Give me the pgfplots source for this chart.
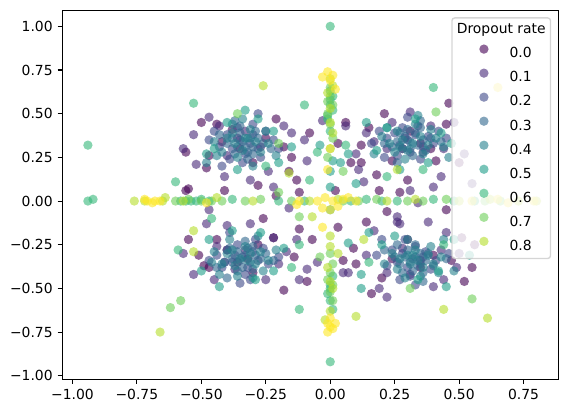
\documentclass[border=0pt]{standalone}
\usepackage{fontspec}
\setmainfont{DejaVu Sans}
\usepackage{pgfplots}
\pgfplotsset{compat=1.18}
\definecolor{c0}{HTML}{440154}
\definecolor{c1}{HTML}{482878}
\definecolor{c2}{HTML}{3E4989}
\definecolor{c3}{HTML}{31688E}
\definecolor{c4}{HTML}{26828E}
\definecolor{c5}{HTML}{1F9E89}
\definecolor{c6}{HTML}{35B779}
\definecolor{c7}{HTML}{6ECE58}
\definecolor{c8}{HTML}{B5DE2B}
\definecolor{c9}{HTML}{FDE725}
\pgfplotsset{
  dot/.style={only marks, mark=*, mark size=3.35pt, mark options={draw=#1, draw opacity=0, fill=#1, fill opacity=0.6}},
}
\begin{document}
\begin{tikzpicture}
\begin{axis}[
  at={(0,0)}, anchor=south west,
  scale only axis, width=356.9pt, height=265.5pt,
  xmin=-1.039, xmax=0.884, ymin=-1.019, ymax=1.092,
  xtick={-1,-0.75,-0.5,-0.25,0,0.25,0.5,0.75},
  xticklabels={−1.00,−0.75,−0.50,−0.25,0.00,0.25,0.50,0.75},
  ytick={-1,-0.75,-0.5,-0.25,0,0.25,0.5,0.75,1},
  yticklabels={−1.00,−0.75,−0.50,−0.25,0.00,0.25,0.50,0.75,1.00},
  tick label style={font=\fontsize{10}{12}\selectfont},
  xtick pos=left, ytick pos=left,
  tick align=outside, major tick length=3.5pt,
  tick style={line width=0.8pt, black},
  axis line style={line width=0.8pt},
  legend cell align=left,
  legend image code/.code={\path[draw=none, fill=none] (-19.5pt,-3pt) rectangle (14pt,3pt); \draw[#1] plot coordinates {(0pt,3.6pt)};},
  legend style={at={(1,1)}, anchor=north east, xshift=-5pt, yshift=-5pt,
    draw=black!20, line width=1pt, rounded corners=2pt, fill=white, fill opacity=0.8, draw opacity=0.8, text opacity=1,
    font=\fontsize{10}{12}\selectfont, inner xsep=3.5pt, inner ysep=4pt,
    nodes={inner sep=0pt, text height=7.5pt, text depth=2pt},
    row sep=5.6pt, column sep=4.5pt},
]
\addlegendimage{empty legend}
\addlegendentry{\hspace{-38pt}Dropout rate}
% 0.0
\addplot[dot=c0] coordinates {
(-0.56,0.28) (-0.55,0.07) (-0.56,0.06) (-0.47,0.26) (-0.48,0.19) (-0.38,0.41) (-0.41,0.06) (-0.28,0.09) (-0.21,0.03) (-0.30,0.22)
(-0.25,0.36) (-0.35,0.30) (-0.42,0.34) (-0.18,0.31) (-0.08,0.39) (0.03,0.33) (-0.16,0.17) (0.08,0.22) (0.02,0.06) (0.12,0.22)
(0.06,0.45) (0.21,0.50) (0.46,0.56) (0.35,0.33) (0.39,0.30) (0.24,0.23) (0.30,0.12) (0.41,0.23) (0.19,0.06) (0.27,0.05)
(0.31,0.40) (0.28,0.30) (0.50,0.22) (-0.49,-0.37) (-0.47,-0.38) (-0.32,-0.33) (-0.36,-0.35) (-0.28,-0.25) (-0.18,-0.51) (-0.12,-0.16)
(-0.07,-0.22) (-0.09,-0.46) (-0.22,-0.21) (-0.51,-0.31) (-0.40,-0.28) (-0.30,-0.41) (0.05,-0.34) (0.03,-0.15) (0.24,-0.33) (0.40,-0.31)
(0.52,-0.46) (0.16,-0.53) (0.56,-0.25) (0.45,-0.05) (0.20,-0.44) (0.35,-0.38) (0.30,-0.22) (0.51,-0.21) (-0.13,0.12) (0.14,-0.12)
(-0.44,0.44) (-0.21,0.47) (-0.12,0.05) (0.12,0.32) (0.18,0.15) (-0.26,-0.10) (-0.44,-0.22) (0.09,-0.27) (0.22,-0.06) (0.47,-0.34)
(-0.50,0.45) (-0.15,0.25) (0.15,0.42) (0.45,0.44) (-0.55,-0.22) (-0.14,-0.32) (0.10,-0.36) (0.55,-0.38)
};
\addlegendentry{0.0}
% 0.1
\addplot[dot=c1] coordinates {
(-0.47,0.48) (-0.43,0.43) (-0.18,0.43) (-0.15,0.39) (-0.52,0.21) (-0.41,0.14) (-0.31,0.12) (-0.22,0.08) (-0.09,0.23) (-0.16,-0.04)
(-0.47,-0.05) (-0.03,0.46) (0.06,0.43) (-0.36,0.36) (-0.27,0.31) (-0.40,0.26) (-0.33,0.40) (0.31,0.51) (0.24,0.45) (0.39,0.43)
(0.14,0.39) (0.17,0.34) (0.13,0.11) (0.31,0.06) (0.43,0.14) (0.44,0.30) (0.26,-0.09) (0.27,-0.13) (0.34,-0.01) (0.29,0.36)
(0.36,0.28) (0.22,0.30) (-0.48,-0.13) (-0.45,-0.45) (-0.44,-0.26) (-0.40,-0.14) (-0.31,-0.13) (-0.22,-0.21) (-0.20,-0.36) (-0.17,-0.29)
(-0.13,-0.22) (-0.05,-0.35) (-0.09,-0.39) (0.05,-0.41) (-0.41,-0.35) (-0.33,-0.28) (-0.37,-0.39) (0.14,-0.31) (0.17,-0.17) (0.26,-0.12)
(0.38,-0.12) (0.45,-0.18) (0.07,-0.41) (0.22,-0.41) (0.40,-0.49) (0.44,-0.45) (0.31,-0.42) (0.43,-0.28) (0.28,-0.27) (0.35,-0.34)
(0.52,0.27) (0.55,0.10) (0.49,-0.38) (-0.53,0.38) (-0.24,0.17) (0.10,0.27) (0.40,0.08) (-0.53,-0.42) (-0.25,-0.45) (0.19,-0.50)
(-0.57,0.30) (-0.10,0.35) (0.48,0.45) (0.11,0.18) (-0.57,-0.30) (-0.12,-0.45) (0.50,-0.30) (0.22,-0.55)
};
\addlegendentry{0.1}
% 0.2
\addplot[dot=c2] coordinates {
(-0.35,0.35) (-0.30,0.38) (-0.38,0.30) (-0.28,0.30) (-0.33,0.27) (-0.40,0.38) (-0.25,0.40) (-0.36,0.42) (-0.31,0.33) (-0.43,0.31)
(-0.27,0.25) (-0.34,0.22) (-0.22,0.35) (-0.39,0.24) (-0.30,0.44) (-0.45,0.40)
(0.30,0.35) (0.33,0.38) (0.27,0.32) (0.36,0.31) (0.25,0.39) (0.31,0.28) (0.38,0.37) (0.22,0.36) (0.34,0.43) (0.28,0.42)
(0.40,0.33) (0.26,0.26) (0.19,0.40) (0.35,0.24) (0.42,0.40)
(-0.34,-0.32) (-0.30,-0.29) (-0.38,-0.35) (-0.32,-0.38) (-0.28,-0.34) (-0.40,-0.28) (-0.36,-0.25) (-0.26,-0.27) (-0.42,-0.38) (-0.33,-0.42)
(-0.24,-0.36) (-0.37,-0.31) (-0.29,-0.22) (-0.44,-0.31) (-0.31,-0.45)
(0.32,-0.33) (0.28,-0.30) (0.35,-0.36) (0.30,-0.38) (0.26,-0.35) (0.37,-0.29) (0.33,-0.26) (0.24,-0.28) (0.39,-0.39) (0.31,-0.43)
(0.22,-0.37) (0.36,-0.32) (0.29,-0.22) (0.41,-0.34) (0.27,-0.45)
(-0.47,0.35) (-0.20,0.30) (-0.28,0.50) (-0.42,0.20) (0.16,0.33) (0.45,0.36) (0.30,0.48) (0.21,0.25) (-0.47,-0.34) (-0.20,-0.32)
(-0.35,-0.47) (-0.39,-0.18) (0.18,-0.31) (0.46,-0.30) (0.33,-0.48) (0.20,-0.22)
};
\addlegendentry{0.2}
% 0.3
\addplot[dot=c3] coordinates {
(-0.34,0.34) (-0.31,0.36) (-0.36,0.31) (-0.30,0.31) (-0.35,0.39) (-0.32,0.28) (-0.38,0.36) (-0.28,0.36) (-0.37,0.27) (-0.33,0.31)
(-0.29,0.40) (-0.40,0.33) (-0.26,0.33) (-0.35,0.43) (-0.32,0.24)
(0.31,0.34) (0.29,0.37) (0.34,0.32) (0.28,0.30) (0.33,0.39) (0.36,0.35) (0.26,0.34) (0.31,0.30) (0.30,0.41) (0.37,0.29)
(0.24,0.31) (0.35,0.42) (0.32,0.26) (0.39,0.36) (0.27,0.39)
(-0.33,-0.31) (-0.35,-0.34) (-0.31,-0.35) (-0.36,-0.29) (-0.29,-0.31) (-0.38,-0.33) (-0.32,-0.27) (-0.34,-0.38) (-0.27,-0.33) (-0.39,-0.27)
(-0.30,-0.39) (-0.36,-0.40) (-0.25,-0.30) (-0.41,-0.35) (-0.33,-0.23)
(0.33,-0.32) (0.31,-0.35) (0.35,-0.30) (0.29,-0.32) (0.34,-0.37) (0.37,-0.34) (0.30,-0.28) (0.32,-0.40) (0.27,-0.36) (0.38,-0.30)
(0.25,-0.32) (0.36,-0.41) (0.33,-0.25) (0.40,-0.37) (0.28,-0.41)
(-0.43,0.38) (-0.23,0.30) (-0.30,0.27) (-0.37,0.46) (0.21,0.33) (0.43,0.34) (0.35,0.46) (0.26,0.22) (-0.44,-0.38) (-0.22,-0.34)
(-0.30,-0.26) (-0.40,-0.44) (0.21,-0.28) (0.45,-0.33) (0.36,-0.46) (0.26,-0.25)
};
\addlegendentry{0.3}
% 0.4
\addplot[dot=c4] coordinates {
(-0.33,0.36) (-0.37,0.33) (-0.29,0.34) (-0.34,0.29) (-0.40,0.36) (-0.27,0.28) (-0.36,0.25) (-0.31,0.41) (-0.42,0.28) (-0.24,0.33)
(-0.38,0.44) (-0.30,0.20) (-0.45,0.34) (-0.21,0.26) (-0.34,0.47) (-0.48,0.22)
(0.32,0.33) (0.28,0.35) (0.35,0.37) (0.30,0.29) (0.26,0.40) (0.38,0.32) (0.23,0.33) (0.33,0.44) (0.41,0.36) (0.29,0.24)
(0.36,0.27) (0.20,0.37) (0.44,0.31) (0.25,0.28) (0.34,0.49) (0.17,0.27)
(-0.35,-0.33) (-0.31,-0.30) (-0.37,-0.37) (-0.29,-0.36) (-0.40,-0.30) (-0.33,-0.26) (-0.27,-0.29) (-0.42,-0.36) (-0.36,-0.43) (-0.24,-0.34)
(-0.39,-0.22) (-0.30,-0.44) (-0.45,-0.29) (-0.21,-0.28) (-0.43,-0.42) (-0.28,-0.20)
(0.34,-0.34) (0.30,-0.31) (0.36,-0.38) (0.31,-0.36) (0.38,-0.31) (0.33,-0.28) (0.27,-0.33) (0.40,-0.36) (0.35,-0.43) (0.24,-0.30)
(0.39,-0.26) (0.29,-0.44) (0.43,-0.32) (0.21,-0.36) (0.42,-0.41) (0.30,-0.22)
(-0.25,0.40) (-0.44,0.26) (-0.32,0.36) (-0.38,0.39) (0.27,0.31) (0.39,0.41) (0.22,0.42) (0.46,0.25) (-0.26,-0.40) (-0.46,-0.35)
(-0.32,-0.34) (-0.38,-0.28) (0.26,-0.39) (0.44,-0.22) (0.32,-0.31) (0.48,-0.40)
};
\addlegendentry{0.4}
% 0.5
\addplot[dot=c5] coordinates {
(-0.33,0.52) (-0.28,0.47) (0.01,0.23) (-0.04,0.32) (0.07,0.27) (0.00,0.17) (-0.45,0.30) (-0.40,0.45) (-0.22,0.40) (-0.20,0.22)
(-0.48,0.27) (-0.36,0.18) (-0.15,0.31) (0.07,-0.24) (0.12,-0.42) (0.12,-0.50) (0.54,-0.31) (0.45,-0.49) (0.34,-0.45) (0.15,-0.18)
(0.20,-0.25) (0.48,-0.22) (0.42,-0.40) (0.25,-0.20) (-0.43,-0.49) (-0.29,-0.45) (-0.47,-0.22) (-0.38,-0.17) (-0.22,-0.40) (-0.18,-0.27)
(-0.50,-0.40) (-0.27,-0.18) (0.33,0.47) (0.43,0.39) (0.04,0.22) (0.10,0.10) (0.27,0.18) (0.18,0.29) (0.47,0.33) (0.22,0.42)
(0.38,0.22) (0.14,0.45) (0.00,-0.05) (0.00,0.08)
};
\addlegendentry{0.5}
% 0.6
\addplot[dot=c6] coordinates {
(-0.94,0.32) (-0.94,0.00) (-0.92,0.01) (0.00,1.00) (0.00,-0.92) (-0.59,-0.28) (-0.60,0.11) (-0.12,-0.62) (-0.53,0.56) (0.40,0.65)
(-0.10,0.55) (0.00,0.63) (0.00,0.58) (0.01,0.52) (-0.01,0.47) (0.00,0.40) (0.01,-0.43) (0.00,-0.48) (-0.01,-0.53) (0.00,-0.57) (0.01,-0.62)
(-0.58,0.00) (-0.56,0.00) (-0.52,0.00) (-0.47,0.00) (-0.38,0.01) (-0.20,0.00) (-0.10,0.00) (0.08,0.00) (0.14,0.01)
(0.20,0.00) (0.26,0.00) (0.40,0.01) (0.48,0.00) (0.56,0.00) (-0.12,-0.25) (0.06,0.32) (-0.05,0.28) (0.15,-0.35) (-0.25,0.20)
(0.22,0.14) (0.36,0.18) (-0.46,-0.10) (-0.15,-0.38) (0.44,-0.25) (-0.08,0.12)
(0.00,0.55) (0.01,0.60) (-0.01,0.49) (-0.54,0.00) (-0.50,0.01) (0.00,-0.50)
};
\addlegendentry{0.6}
% 0.7
\addplot[dot=c7] coordinates {
(-0.62,-0.61) (-0.58,-0.57) (0.55,-0.56) (0.31,-0.50) (-0.36,0.50) (-0.20,0.33) (0.41,0.51) (-0.12,-0.09) (0.00,0.60) (0.01,0.55)
(-0.01,0.50) (0.00,0.44) (0.01,0.36) (0.00,0.30) (-0.01,0.25) (0.00,-0.30) (0.01,-0.36) (0.00,-0.41) (-0.01,-0.45) (0.00,-0.52)
(0.01,-0.57) (-0.60,0.00) (-0.55,0.01) (-0.50,0.00) (-0.42,0.00) (-0.33,0.00) (-0.27,0.01) (-0.15,0.00) (0.05,0.00) (0.11,0.00)
(0.18,0.01) (0.30,0.00) (0.36,0.00) (0.45,0.01) (0.60,0.00) (0.66,0.00) (-0.04,-0.32) (0.05,0.17) (-0.20,0.05)
(0.00,0.65) (-0.01,0.57) (0.01,-0.48) (-0.46,0.00)
};
\addlegendentry{0.7}
% 0.8
\addplot[dot=c8] coordinates {
(-0.66,-0.75) (0.61,-0.67) (0.44,-0.62) (0.10,-0.66) (-0.53,-0.17) (-0.53,-0.29) (-0.26,0.66) (-0.76,0.00) (-0.72,0.00) (-0.65,0.00)
(-0.64,0.02) (-0.57,0.00) (-0.44,0.02) (-0.30,0.00) (-0.08,0.00) (0.03,0.01) (0.22,0.00) (0.33,0.01) (0.50,0.00) (0.62,0.01)
(0.73,0.00) (0.80,0.00) (0.00,0.70) (0.01,0.66) (-0.01,0.62) (0.00,0.53) (0.00,0.45) (0.01,0.39) (0.00,-0.20) (0.00,-0.26)
(-0.01,-0.38) (0.00,-0.46) (0.01,-0.50) (0.00,-0.63) (-0.02,-0.68) (0.03,-0.30) (-0.07,-0.09) (0.13,-0.22) (0.26,0.18) (-0.16,0.16)
};
\addlegendentry{0.8}
% 0.9
\addplot[dot=c9, forget plot] coordinates {
(-0.72,0.01) (-0.71,0.00) (-0.69,-0.01) (-0.68,0.00) (-0.66,0.00) (-0.48,-0.01) (-0.13,-0.02) (-0.12,0.00) (-0.03,-0.04) (-0.02,0.02)
(0.01,0.00) (0.03,-0.03) (0.05,0.01) (0.07,0.02) (-0.01,0.74) (-0.03,0.71) (0.00,0.69) (0.01,0.72) (0.02,0.64) (0.00,0.30)
(-0.01,0.18) (-0.03,-0.15) (0.00,-0.67) (-0.01,-0.70) (0.02,-0.70) (0.00,-0.72) (-0.01,-0.75) (0.01,-0.73) (0.55,0.00) (0.65,0.01)
(0.69,-0.01) (0.79,0.00) (0.65,0.65) (0.00,-0.05) (-0.05,0.00) (0.10,0.00)
};
\end{axis}
\pgfresetboundingbox
\path (-44.9pt,-24.5pt) rectangle (364.0pt,272.9pt);
\end{tikzpicture}
\end{document}
